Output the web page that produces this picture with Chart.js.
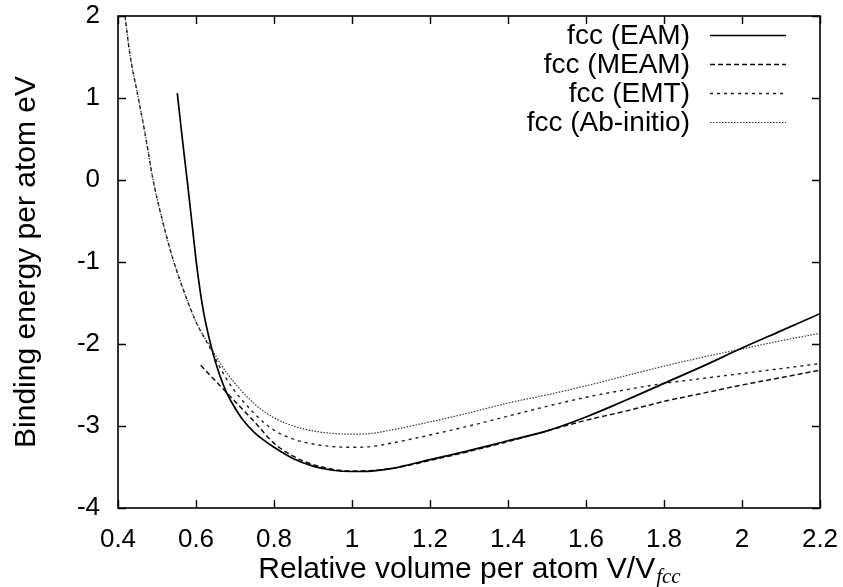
<!DOCTYPE html>
<html>
<head>
<meta charset="utf-8">
<script src="https://cdn.jsdelivr.net/npm/chart.js@4/dist/chart.umd.min.js"></script>
<style>
  html, body { margin: 0; padding: 0; background: #fff; }
  #wrap { width: 843px; height: 587px; position: relative; }
</style>
</head>
<body>
<div id="wrap"><canvas id="grafico"></canvas></div>
<script>
// Valores (volume relativo -> energia de ligação eV)
const eamX = [0.552, 0.565, 0.578, 0.59, 0.602, 0.619, 0.64, 0.66, 0.679, 0.7, 0.721, 0.75, 0.773, 0.8, 0.85, 0.9, 0.95, 1.0, 1.05, 1.1, 1.2, 1.3, 1.4, 1.5, 1.6, 1.7, 1.8, 1.9, 2.0, 2.1, 2.2];
const eamY = [1.06, 0.50, -0.03, -0.54, -1.05, -1.60, -2.05, -2.37, -2.60, -2.78, -2.93, -3.08, -3.17, -3.26, -3.40, -3.49, -3.54, -3.555, -3.55, -3.52, -3.41, -3.30, -3.18, -3.06, -2.89, -2.69, -2.48, -2.27, -2.05, -1.84, -1.63];

const meamX = [0.612, 0.65, 0.7, 0.75, 0.8, 0.85, 0.9, 1.0, 1.1, 1.2, 1.3, 1.4, 1.5, 1.6, 1.7, 1.8, 1.9, 2.0, 2.1, 2.2];
const meamY = [-2.26, -2.45, -2.70, -2.95, -3.21, -3.37, -3.47, -3.55, -3.52, -3.42, -3.31, -3.19, -3.06, -2.93, -2.82, -2.70, -2.60, -2.50, -2.41, -2.32];

const emtX = [0.418, 0.43, 0.45, 0.47, 0.49, 0.51, 0.54, 0.57, 0.6, 0.636, 0.68, 0.75, 0.8, 0.85, 0.9, 0.95, 1.0, 1.05, 1.1, 1.2, 1.3, 1.4, 1.5, 1.6, 1.7, 1.8, 1.9, 2.0, 2.1, 2.2];
const emtY = [2.0, 1.55, 1.05, 0.55, 0.0, -0.42, -0.95, -1.37, -1.73, -2.05, -2.44, -2.85, -3.05, -3.16, -3.22, -3.25, -3.26, -3.25, -3.21, -3.11, -3.00, -2.88, -2.76, -2.65, -2.56, -2.48, -2.42, -2.36, -2.30, -2.24];

const abX = [0.418, 0.43, 0.45, 0.47, 0.49, 0.51, 0.54, 0.57, 0.6, 0.636, 0.68, 0.75, 0.8, 0.85, 0.9, 0.95, 1.0, 1.05, 1.1, 1.2, 1.3, 1.4, 1.5, 1.6, 1.7, 1.8, 1.9, 2.0, 2.1, 2.2];
const abY = [2.0, 1.55, 1.05, 0.55, 0.0, -0.42, -0.95, -1.37, -1.73, -2.03, -2.36, -2.73, -2.90, -3.00, -3.06, -3.09, -3.10, -3.09, -3.05, -2.95, -2.84, -2.72, -2.62, -2.51, -2.39, -2.27, -2.16, -2.06, -1.96, -1.87];

const rotulos = ['fcc (EAM)', 'fcc (MEAM)', 'fcc (EMT)', 'fcc (Ab-initio)'];

const fonte = '"Liberation Sans", Arial, Helvetica, sans-serif';

function pontos(xs, ys) {
    return xs.map((x, i) => ({ x: x, y: ys[i] }));
}

function serie(label, xs, ys, cor, largura, tracejado) {
    return {
        label: label,
        data: pontos(xs, ys),
        borderColor: cor,
        borderWidth: largura,
        borderDash: tracejado,
        pointRadius: 0,
        fill: false,
        cubicInterpolationMode: 'monotone'
    };
}

// Moldura, ticks para dentro, legenda estilo gnuplot e título do eixo x
const molduraPlugin = {
    id: 'moldura',
    afterDatasetsDraw(chart) {
        const ctx = chart.ctx;
        const a = chart.chartArea;
        const sx = chart.scales.x;
        const sy = chart.scales.y;

        ctx.save();
        ctx.strokeStyle = '#000';
        ctx.lineWidth = 1.6;
        ctx.strokeRect(a.left, a.top, a.right - a.left, a.bottom - a.top);

        ctx.lineWidth = 1.4;
        ctx.beginPath();
        sx.ticks.forEach(t => {
            const px = Math.round(sx.getPixelForValue(t.value)) + 0.5;
            ctx.moveTo(px, a.bottom); ctx.lineTo(px, a.bottom - 8);
            ctx.moveTo(px, a.top); ctx.lineTo(px, a.top + 8);
        });
        sy.ticks.forEach(t => {
            const py = Math.round(sy.getPixelForValue(t.value)) + 0.5;
            ctx.moveTo(a.left, py); ctx.lineTo(a.left + 8, py);
            ctx.moveTo(a.right, py); ctx.lineTo(a.right - 8, py);
        });
        ctx.stroke();

        // legenda
        ctx.font = '28px ' + fonte;
        ctx.fillStyle = '#000';
        ctx.textAlign = 'right';
        ctx.textBaseline = 'middle';
        chart.data.datasets.forEach((ds, i) => {
            const yy = 35 + i * 29;
            ctx.fillText(ds.label, 690, yy + 1);
            ctx.beginPath();
            ctx.strokeStyle = ds.borderColor;
            ctx.lineWidth = ds.borderWidth;
            ctx.setLineDash(ds.borderDash || []);
            ctx.moveTo(710, yy + 0.5);
            ctx.lineTo(786, yy + 0.5);
            ctx.stroke();
            ctx.setLineDash([]);
        });

        // título do eixo x com subscrito
        const base = 'Relative volume per atom V/V';
        const sub = 'fcc';
        const fBase = '30px ' + fonte;
        const fSub = 'italic 21px "Liberation Serif", "Times New Roman", serif';
        ctx.font = fBase;
        const w1 = ctx.measureText(base).width;
        ctx.font = fSub;
        const w2 = ctx.measureText(sub).width;
        const cx = (a.left + a.right) / 2;
        const x0 = cx - (w1 + w2) / 2;
        ctx.textAlign = 'left';
        ctx.textBaseline = 'alphabetic';
        ctx.font = fBase;
        ctx.fillText(base, x0, 578);
        ctx.font = fSub;
        ctx.fillText(sub, x0 + w1 + 1, 583);
        ctx.restore();
    }
};

const ctxGrafico = document.getElementById('grafico').getContext('2d');
new Chart(ctxGrafico, {
    type: 'line',
    data: {
        datasets: [
            serie(rotulos[0], eamX, eamY, '#000', 1.7, []),
            serie(rotulos[1], meamX, meamY, '#111', 1.5, [5, 3]),
            serie(rotulos[2], emtX, emtY, '#222', 1.4, [3, 4]),
            serie(rotulos[3], abX, abY, '#333', 1.2, [1.5, 1.5])
        ]
    },
    options: {
        responsive: true,
        maintainAspectRatio: false,
        animation: false,
        layout: { padding: { top: 16, right: 23, left: 0, bottom: 0 } },
        plugins: {
            legend: { display: false },
            tooltip: { enabled: false }
        },
        scales: {
            x: {
                type: 'linear',
                min: 0.4,
                max: 2.2,
                grid: { display: false, drawTicks: false },
                border: { display: false },
                ticks: {
                    stepSize: 0.2,
                    padding: 16,
                    color: '#000',
                    font: { family: fonte, size: 26 },
                    callback: v => String(Number(v.toFixed(1)))
                },
                afterFit: s => {
                    s.height = 79;
                    s.paddingLeft = 0;
                    s.paddingRight = 0;
                }
            },
            y: {
                min: -4,
                max: 2,
                grid: { display: false, drawTicks: false },
                border: { display: false },
                ticks: {
                    stepSize: 1,
                    padding: 18,
                    color: '#000',
                    font: { family: fonte, size: 26 },
                    callback: v => String(v)
                },
                title: {
                    display: true,
                    text: 'Binding energy per atom eV',
                    color: '#000',
                    font: { family: fonte, size: 30 },
                    padding: { top: 9, bottom: 0 }
                },
                afterFit: s => {
                    s.width = 118;
                    s.paddingTop = 0;
                    s.paddingBottom = 0;
                }
            }
        }
    },
    plugins: [molduraPlugin]
});
</script>
</body>
</html>
